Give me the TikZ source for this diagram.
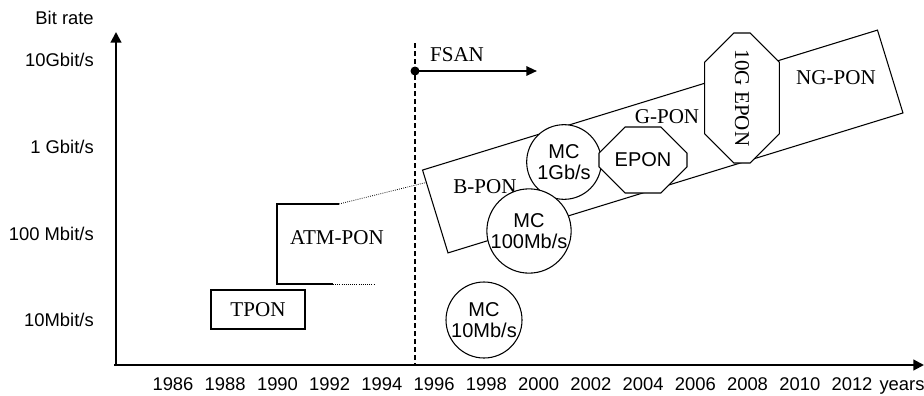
\documentclass[tikz,border=0pt]{standalone}
\usepackage{fontspec}
\setmainfont{Liberation Serif}
\setsansfont{Liberation Sans}
\usetikzlibrary{positioning,arrows.meta,shapes.misc}

\begin{document}
\begin{tikzpicture}[x=0.75pt, y=-0.75pt, ratelabel/.style={anchor=base east, inner sep=0pt, font=\sffamily\fontsize{13.8}{16}\selectfont}, yearlabel/.style={anchor=base, inner sep=0pt, font=\sffamily\fontsize{13.8}{16}\selectfont}, axis/.style={line width=1.6pt, -{Triangle[width=8pt,length=8pt]}}, ponlabel/.style={inner sep=0pt, font=\fontsize{15.8}{18}\selectfont}, ponbox/.style={draw, line width=0.8pt, fill=white}, mcircle/.style={circle, draw, line width=0.8pt, fill=white, inner sep=0pt, minimum size=57pt, align=center, font=\sffamily\fontsize{15}{16}\selectfont}, octbox/.style={chamfered rectangle, draw, line width=0.8pt, fill=white, inner sep=0pt}, arrow/.style={-{Triangle[width=7pt,length=8pt]}, line width=1.5pt}]
\useasboundingbox (0,0) rectangle (924,396);
% axes
\coordinate (origin) at (116,366);
\coordinate (ytip) at (116,32);
\coordinate (xstart) at (114,365);
\coordinate (xtip) at (924,365);
\draw[axis] (origin) -- (ytip);
\draw[axis] (xstart) -- (xtip);
\node[ratelabel] (rbit) at (94,24) {Bit rate};
\node[ratelabel] (r10g) at (94,66.7) {10Gbit/s};
\node[ratelabel] (r1g) at (94,153) {1 Gbit/s};
\node[ratelabel] (r100m) at (94,240) {100 Mbit/s};
\node[ratelabel] (r10m) at (94,326) {10Mbit/s};
\node[yearlabel] (y1986) at (173,390.7) {1986};
\node[yearlabel] (y1988) at (225.2,390.7) {1988};
\node[yearlabel] (y1990) at (277.5,390.7) {1990};
\node[yearlabel] (y1992) at (329.7,390.7) {1992};
\node[yearlabel] (y1994) at (381.9,390.7) {1994};
\node[yearlabel] (y1996) at (434.2,390.7) {1996};
\node[yearlabel] (y1998) at (486.4,390.7) {1998};
\node[yearlabel] (y2000) at (538.6,390.7) {2000};
\node[yearlabel] (y2002) at (590.8,390.7) {2002};
\node[yearlabel] (y2004) at (643.1,390.7) {2004};
\node[yearlabel] (y2006) at (695.3,390.7) {2006};
\node[yearlabel] (y2008) at (747.5,390.7) {2008};
\node[yearlabel] (y2010) at (799.8,390.7) {2010};
\node[yearlabel] (y2012) at (852,390.7) {2012};
\node[yearlabel] (years) at (902,390.7) {years};
% FSAN marker
\coordinate (dashtop) at (415,43);
\coordinate (dashbot) at (415,364);
\draw[line width=0.8pt, dash pattern=on 3.5pt off 2.5pt] (dashtop) -- (dashbot);
\node[circle, fill, inner sep=0pt, minimum size=6.75pt] (fsandot) at (415,71) {};
\coordinate (fsanend) at (537,71);
\draw[arrow] (fsandot.center) -- (fsanend);
\node[ponlabel] (fsan) at (457,55) {FSAN};
% early PONs
\node[ponbox, ponlabel, minimum width=70.5pt, minimum height=29.25pt] (tpon) at (258,309.5) {TPON};
\coordinate (atmtop) at (277,204);
\coordinate (atmbot) at (277,284);
\coordinate (atmtopend) at (339,204);
\coordinate (atmbotend) at (333,284);
\coordinate (atmtopdot) at (432,181);
\coordinate (atmbotdot) at (374,284);
\draw[line width=0.8pt] (atmtopend) -- (atmtop) -- (atmbot) -- (atmbotend);
\draw[line width=0.6pt, densely dotted] (atmtopend) -- (atmtopdot);
\draw[line width=0.6pt, densely dotted] (atmbotend) -- (atmbotdot);
\node[ponlabel] (atmpon) at (337,238) {ATM-PON};
% PON band
\node[ponbox, rotate=17.1, minimum width=357pt, minimum height=65pt] (ponband) at (662.75,141.5) {};
\node[ponlabel] (bpon) at (485,187) {B-PON};
\node[ponlabel] (gpon) at (667,117) {G-PON};
\node[ponlabel] (ngpon) at (836,78) {NG-PON};
\node[mcircle, minimum size=56pt] (mc1g) at (564,162) {MC\\1Gb/s};
\node[mcircle] (mc100m) at (529,231) {MC\\100Mb/s};
\node[mcircle] (mc10m) at (484,320) {MC\\10Mb/s};
\node[octbox, chamfered rectangle xsep=14.25pt, chamfered rectangle ysep=14.25pt, minimum width=66pt, minimum height=49.5pt, font=\sffamily\fontsize{15}{17}\selectfont] (epon) at (643,160) {EPON};
\node[octbox, rotate=-90, chamfered rectangle xsep=16.5pt, chamfered rectangle ysep=16.5pt, minimum width=97.5pt, minimum height=56pt, font=\fontsize{15.8}{18}\selectfont] (tengepon) at (742,98) {10G EPON};
\end{tikzpicture}
\end{document}
